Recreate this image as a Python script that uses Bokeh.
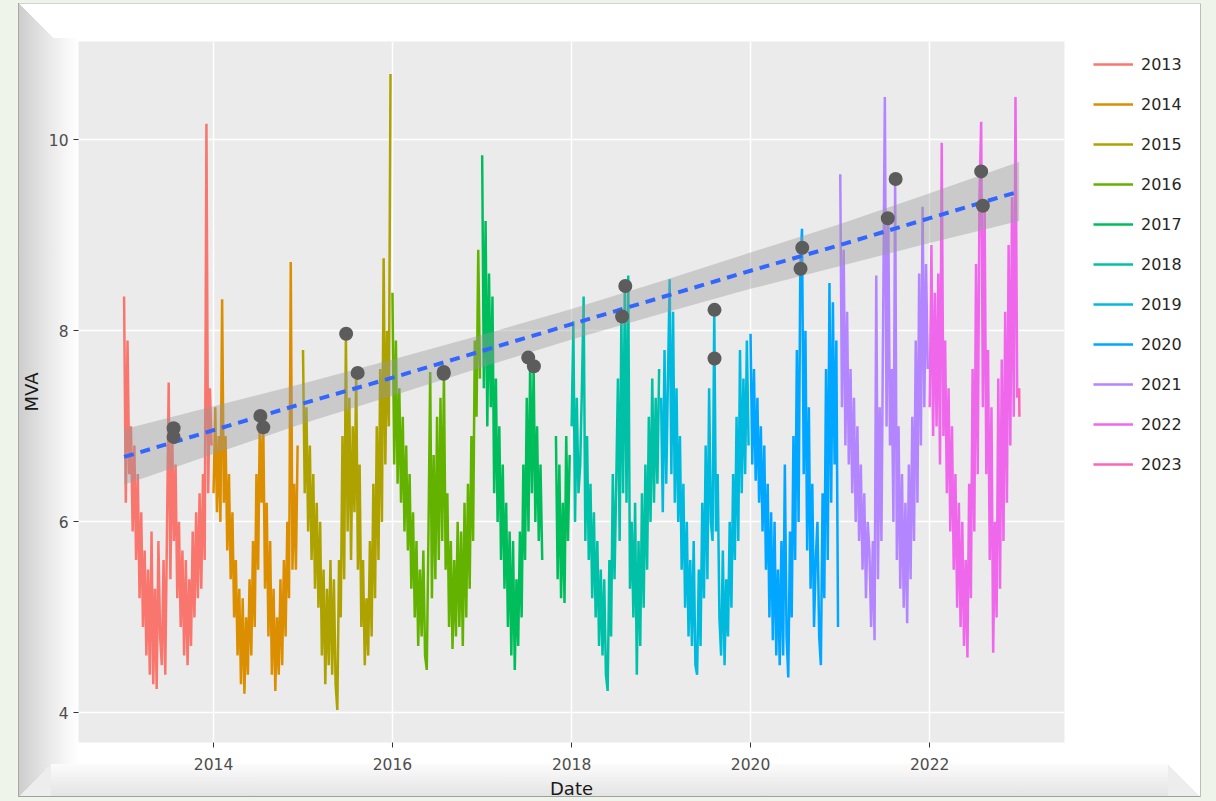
import numpy as np
import pandas as pd
from bokeh.plotting import figure
from bokeh.models import (Range1d, FixedTicker, DatetimeTickFormatter, Legend, LegendItem)
from bokeh.embed import file_html
from bokeh.resources import INLINE

nan = float("nan")

# ---------------- data ----------------
years = ["2013", "2014", "2015", "2016", "2017", "2018", "2019", "2020", "2021", "2022", "2023"]
colors = ["#F8766D", "#DB8E00", "#AEA200", "#64B200", "#00BD5C", "#00C1A7",
          "#00BADE", "#00A6FF", "#B385FF", "#EF67EB", "#FF63B6"]

# weekly samples starting 1 January of each year
mva_2013 = [8.36, 6.2, 7.9, 6.5, 7.0, 5.9, 6.8, 5.6, 6.5, 5.2, 6.1, 4.9, 5.7,
            4.6, 5.5, 4.4, 5.9, 4.3, 5.3, 4.25, 5.8, 4.8, 4.5, 5.6, 4.4, 5.9,
            7.46, 5.4, 6.98, 5.8, 6.6, 5.2, 6.0, 4.9, 5.7, 4.6, 5.6, 4.5, 5.4,
            4.7, 5.9, 5.0, 6.1, 5.2, 6.3, 5.3, 6.5, 5.6, 10.17, 6.3, 7.4, 6.8]
mva_2014 = [6.3, 7.2, 6.1, 6.9, 6.0, 8.33, 6.2, 6.9, 5.7, 6.5, 5.4, 6.1, 5.0,
            5.6, 4.6, 5.3, 4.3, 5.2, 4.2, 5.0, 4.4, 5.4, 4.6, 5.8, 4.9, 6.5,
            5.5, 7.11, 6.2, 6.99, 5.3, 6.2, 4.8, 5.8, 4.4, 5.3, 4.23, 5.0, 4.4,
            5.4, 4.5, 5.6, 4.8, 6.0, 5.2, 8.72, 5.5, 6.4, 5.5, 6.8]
mva_2015 = [7.8, 6.3, 7.2, 5.9, 6.8, 5.6, 6.5, 5.3, 6.2, 5.1, 6.0, 4.6, 5.5,
            4.3, 5.3, 4.5, 5.6, 4.4, 5.4, 4.3, 4.03, 5.6, 5.0, 6.9, 5.4, 7.97,
            5.9, 7.3, 5.6, 7.0, 6.1, 7.56, 5.5, 6.6, 4.9, 5.6, 4.5, 5.2, 4.6,
            5.8, 4.8, 6.4, 5.2, 7.0, 5.6, 7.6, 6.0, 8.76, 6.6, 8.0, 7.0, 10.69]
mva_2016 = [8.4, 6.6, 7.9, 6.4, 7.4, 6.2, 7.1, 5.9, 6.8, 5.7, 6.5, 5.3, 6.1,
            5.0, 5.8, 4.7, 5.5, 4.8, 5.7, 4.6, 4.45, 5.9, 7.57, 5.2, 6.7, 5.4,
            7.1, 5.6, 7.3, 5.8, 7.56, 5.5, 6.3, 4.9, 5.8, 4.67, 5.6, 4.8, 6.0,
            4.9, 5.9, 4.7, 6.2, 5.0, 6.4, 5.3, 6.9, 5.8, 7.9, 7.1, 8.85, 7.5]
mva_2017 = [9.84, 7.4, 9.15, 7.0, 8.6, 7.2, 8.36, 6.3, 7.5, 6.0, 7.0, 5.6, 6.6,
            5.3, 6.2, 4.9, 5.9, 4.6, 5.8, 4.45, 5.4, 4.7, 5.9, 5.0, 6.6, 5.6,
            7.3, 5.9, 7.72, 6.3, 7.63, 6.0, 7.0, 5.8, 6.6, 5.6, nan, nan, nan,
            nan, nan, nan, nan, 6.9, 5.4, 6.6, 5.2, 6.2, 5.15, 6.9, 5.8, 6.7]
mva_2018 = [7.0, 8.1, 6.0, 7.3, 6.3, 6.6, 7.4, 8.36, 5.8, 6.9, 5.6, 6.4, 5.2,
            6.1, 5.0, 5.8, 4.7, 5.5, 4.6, 5.4, 4.4, 4.23, 5.6, 4.8, 6.5, 5.4,
            6.4, 7.5, 5.8, 8.15, 6.3, 8.47, 6.2, 8.58, 5.3, 6.0, 5.0, 6.2, 4.4,
            5.8, 4.7, 6.3, 5.1, 6.6, 5.5, 7.1, 6.0, 7.5, 6.2, 7.3, 6.4, 7.6]
mva_2019 = [7.3, 6.1, 7.8, 6.4, 7.5, 8.54, 6.5, 8.2, 6.2, 7.4, 6.0, 6.9, 5.5,
            6.4, 5.1, 6.0, 4.8, 5.6, 4.7, 5.8, 4.5, 4.4, 5.5, 4.7, 6.2, 5.2,
            6.8, 5.4, 7.4, 6.0, 5.8, 8.22, 5.9, 6.5, 5.0, 4.6, 5.7, 4.5, 5.4,
            4.8, 6.0, 5.1, 6.5, 5.6, 7.1, 5.8, 7.8, 6.3, 7.5, 6.5, 7.9, 6.8]
mva_2020 = [7.97, 6.6, 7.6, 6.43, 7.3, 6.2, 7.0, 5.9, 6.8, 5.5, 6.4, 5.0, 6.1,
            4.76, 6.0, 4.6, 5.5, 4.5, 5.8, 4.6, 6.6, 4.8, 4.37, 5.9, 5.0, 6.9,
            5.6, 7.8, 6.0, 8.65, 9.07, 6.5, 8.0, 5.7, 7.2, 5.3, 6.4, 4.9, 5.6,
            6.0, 4.8, 4.5, 6.3, 5.2, 7.6, 5.6, 8.5, 6.2, 8.3, 6.6, 7.9, 4.9]
mva_2021 = [9.64, 7.2, 8.85, 6.8, 8.2, 6.6, 7.6, 6.3, 7.3, 6.0, 7.0, 5.8, 6.6,
            5.5, 6.3, 5.2, 6.0, 5.7, 4.9, 5.8, 4.76, 8.58, 5.4, 7.2, 5.8, 8.1,
            10.45, 7.0, 9.18, 6.8, 7.6, 6.0, 9.59, 5.6, 7.0, 5.3, 6.5, 5.1, 6.2,
            4.94, 6.6, 5.4, 7.1, 5.8, 7.9, 6.2, 8.6, 6.8, 9.3, 7.2, 8.7, 7.6]
mva_2022 = [7.2, 8.9, 6.9, 8.4, 7.0, 8.6, 6.6, 9.97, 6.9, 7.9, 6.3, 7.4, 5.9,
            7.0, 5.5, 6.5, 5.1, 6.2, 4.9, 6.0, 4.7, 5.6, 4.58, 6.4, 5.2, 7.6,
            5.9, 8.7, 6.5, 9.4, 10.19, 7.2, 9.31, 6.5, 7.8, 5.6, 7.2, 4.63, 6.0,
            5.0, 7.5, 5.3, 7.7, 5.8, 8.2, 6.2, 8.9, 6.8, 9.4, 7.1, 10.45, 7.3]
mva_2023 = [7.4, 7.1]
series = [mva_2013, mva_2014, mva_2015, mva_2016, mva_2017, mva_2018,
          mva_2019, mva_2020, mva_2021, mva_2022, mva_2023]
step_days = [7, 7, 7, 7, 7, 7, 7, 7, 7, 7, 1]

# yearly peak points
peak_dates = ["2013-07-22", "2013-07-22", "2014-07-11", "2014-07-23", "2015-06-26",
              "2015-08-12", "2016-07-28", "2016-07-28", "2017-07-08", "2017-07-31",
              "2018-07-26", "2018-08-08", "2019-08-07", "2019-08-07", "2020-07-30",
              "2020-07-23", "2021-07-14", "2021-08-15", "2022-07-30", "2022-08-06"]
peak_mva = [6.98, 6.89, 7.11, 6.99, 7.97, 7.56, 7.57, 7.55, 7.72, 7.63,
            8.15, 8.47, 8.22, 7.71, 8.87, 8.65, 9.18, 9.59, 9.67, 9.31]

# linear trend and its confidence band
trend_dates = ["2013-01-01", "2014-01-01", "2015-01-01", "2016-01-01", "2017-01-01",
               "2018-01-01", "2019-01-01", "2020-01-01", "2021-01-01", "2022-01-01",
               "2023-01-01"]
trend_mva = [6.68, 6.96, 7.24, 7.51, 7.79, 8.07, 8.35, 8.63, 8.90, 9.18, 9.46]
band_lo = [6.39, 6.71, 7.03, 7.32, 7.62, 7.91, 8.18, 8.44, 8.68, 8.92, 9.15]
band_hi = [6.97, 7.21, 7.45, 7.70, 7.96, 8.23, 8.52, 8.82, 9.12, 9.44, 9.77]

y_ticks = [4, 6, 8, 10]
x_tick_years = ["2014", "2016", "2018", "2020", "2022"]


def ms(s):
    return pd.Timestamp(s).value / 1e6


FONT = "DejaVu Sans"

# picture-frame look drawn as CSS behind a transparent border
G = "#EEF4EA"


def layer(img, x, y, w, h):
    return "%s %s %s / %s %s no-repeat" % (img, x, y, w, h)


def flat(c):
    return "linear-gradient(%s,%s)" % (c, c)


frame_css = ", ".join([
    layer(flat(G), "0px", "0px", "100%", "3px"),
    layer(flat(G), "0px", "797px", "100%", "4px"),
    layer(flat(G), "0px", "0px", "18px", "100%"),
    layer(flat(G), "1201px", "0px", "15px", "100%"),
    layer(flat("#A8A8A8"), "18px", "3px", "1px", "794px"),
    layer(flat("#D2D2D2"), "18px", "3px", "1183px", "1px"),
    layer(flat("#BDBDBD"), "1200px", "3px", "1px", "794px"),
    layer(flat("#A0A0A0"), "18px", "796px", "1183px", "1px"),
    layer("linear-gradient(to top right, rgba(255,255,255,0) 50%, #FFFFFF 50%)",
          "19px", "4px", "34px", "34px"),
    layer(flat("#FFFFFF"), "53px", "4px", "30px", "34px"),
    layer("linear-gradient(to bottom right, rgba(255,255,255,0) 50%, #EDEDED 50%)",
          "19px", "764px", "32px", "32px"),
    layer("linear-gradient(to bottom left, rgba(255,255,255,0) 50%, #EDEDED 50%)",
          "1168px", "764px", "32px", "32px"),
    layer("linear-gradient(to bottom, #FBFBFB, #E4E4E4)", "51px", "764px", "1117px", "32px"),
    layer("linear-gradient(to right, #CDCDCD, #E9E9E9 30px, #F7F7F7 48px, #FFFFFF 60px)",
          "19px", "4px", "60px", "792px"),
])

p = figure(x_axis_type="datetime", frame_width=986, frame_height=701,
           x_range=Range1d(ms("2012-06-29"), ms("2023-07-05")),
           y_range=Range1d(3.69, 11.03),
           output_backend="svg", toolbar_location=None,
           min_border_left=78, min_border_right=152, min_border_top=41, min_border_bottom=59,
           styles={"background": frame_css, "background-color": "#FFFFFF"})
p.background_fill_color = "#EBEBEB"
p.border_fill_color = None
p.border_fill_alpha = 0
p.outline_line_color = None

# axes
p.xaxis.ticker = FixedTicker(ticks=[ms(y + "-01-01") for y in x_tick_years])
fmt = "%Y"
p.xaxis.formatter = DatetimeTickFormatter(years=fmt, months=fmt, days=fmt, hours=fmt,
                                          hourmin=fmt, minutes=fmt, minsec=fmt, seconds=fmt,
                                          milliseconds=fmt, microseconds=fmt)
p.yaxis.ticker = FixedTicker(ticks=y_ticks)
for ax in (p.xaxis[0], p.yaxis[0]):
    ax.axis_line_color = None
    ax.major_tick_line_color = "#333333"
    ax.major_tick_out = 5
    ax.major_tick_in = 0
    ax.minor_tick_line_color = None
    ax.major_label_text_font = FONT
    ax.major_label_text_font_size = "15.5px"
    ax.major_label_text_color = "#4D4D4D"
    ax.axis_label_text_font = FONT
    ax.axis_label_text_font_size = "18px"
    ax.axis_label_text_font_style = "normal"
    ax.axis_label_text_color = "#1A1A1A"
p.xaxis.major_label_standoff = 10
p.yaxis.major_label_standoff = 5
p.yaxis.axis_label = "MVA"
p.yaxis.axis_label_standoff = 4
p.xaxis.axis_label = "Date"
p.xaxis.axis_label_standoff = 5

p.grid.grid_line_color = "#FFFFFF"
p.grid.grid_line_width = 1.5

# data lines
items = []
for yr, vals, col, step in zip(years, series, colors, step_days):
    dates = pd.Timestamp(yr + "-01-01") + pd.to_timedelta(np.arange(len(vals)) * step, unit="D")
    r = p.line(dates, vals, line_color=col, line_width=2.5)
    items.append(LegendItem(label=yr, renderers=[r]))

# confidence band, trend, peaks
td = pd.to_datetime(trend_dates)
p.varea(x=td, y1=band_lo, y2=band_hi, fill_color="#999999", fill_alpha=0.4)
p.line(td, trend_mva, line_color="#3366FF", line_width=4, line_dash="10 7")
p.scatter(pd.to_datetime(peak_dates), peak_mva, size=14, fill_color="#5C5C5C", line_color=None)

legend = Legend(items=items, location=(29, 268), orientation="vertical",
                glyph_width=40, glyph_height=20, label_height=20, label_width=100,
                spacing=20, padding=0, margin=0, label_standoff=8,
                label_text_font=FONT, label_text_font_size="16px",
                label_text_color="#262626", border_line_color=None,
                background_fill_alpha=0)
p.add_layout(legend, "right")

open("out.html", "w").write(file_html(p, INLINE))
